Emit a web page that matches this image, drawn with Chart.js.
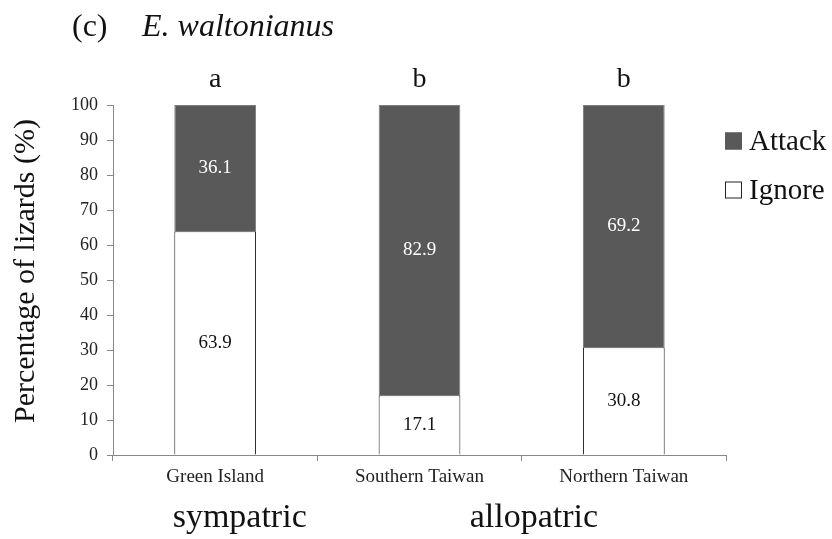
<!DOCTYPE html>
<html>
<head>
<meta charset="utf-8">
<script src="https://cdn.jsdelivr.net/npm/chart.js@4"></script>
<style>
  html, body { margin: 0; padding: 0; background: #fff; }
  #wrap { width: 832px; height: 539px; }
</style>
</head>
<body>
<div id="wrap"><canvas id="c" width="832" height="539"></canvas></div>
<script>
// Response of lizards to the model, by population
const categories = ['Green Island', 'Southern Taiwan', 'Northern Taiwan'];
const ignoreValues = [63.9, 17.1, 30.8];
const attackValues = [36.1, 82.9, 69.2];
const significance = ['a', 'b', 'b'];
const groupLabels = ['sympatric', 'allopatric'];
const seriesNames = ['Ignore', 'Attack'];
const yAxisTitle = 'Percentage of lizards (%)';

const SERIF = "'Liberation Serif', 'Times New Roman', serif";

// Title, axis title, letters, group names, value labels and legend
const decor = {
  id: 'decor',
  afterDraw(chart) {
    const ctx = chart.ctx;
    const area = chart.chartArea;
    const xs = chart.scales.x;
    ctx.save();

    // panel title
    ctx.fillStyle = '#111';
    ctx.textBaseline = 'alphabetic';
    ctx.textAlign = 'left';
    ctx.font = '32px ' + SERIF;
    ctx.fillText('(c)', 72, 36);
    ctx.font = 'italic 32px ' + SERIF;
    ctx.fillText('E. waltonianus', 142, 36);

    // vertical axis title
    ctx.save();
    ctx.translate(26, 271);
    ctx.rotate(-Math.PI / 2);
    ctx.font = '30px ' + SERIF;
    ctx.textAlign = 'center';
    ctx.textBaseline = 'middle';
    ctx.fillText(yAxisTitle, 0, 0);
    ctx.restore();

    // significance letters above the bars
    ctx.font = '28px ' + SERIF;
    ctx.textAlign = 'center';
    significance.forEach((s, i) => {
      ctx.fillText(s, xs.getPixelForValue(i), area.top - 18);
    });

    // value labels centred in each segment
    ctx.font = '19px ' + SERIF;
    ctx.textBaseline = 'middle';
    chart.data.datasets.forEach((ds, di) => {
      const meta = chart.getDatasetMeta(di);
      meta.data.forEach((el, i) => {
        ctx.fillStyle = di === 1 ? '#ffffff' : '#111111';
        ctx.fillText(ds.data[i].toFixed(1), el.x, (el.y + el.base) / 2);
      });
    });

    // sympatric / allopatric
    ctx.font = '34px ' + SERIF;
    ctx.textBaseline = 'alphabetic';
    ctx.fillStyle = '#111';
    ctx.fillText(groupLabels[0], xs.getPixelForValue(0.12), 527);
    ctx.fillText(groupLabels[1], xs.getPixelForValue(1.56), 527);

    // legend (Attack listed first)
    ctx.font = '29px ' + SERIF;
    ctx.textAlign = 'left';
    ctx.textBaseline = 'middle';
    const order = [1, 0];
    order.forEach((di, k) => {
      const ds = chart.data.datasets[di];
      const bx = area.right - 1;
      const cy = area.top + 36 + k * 49;
      ctx.fillStyle = ds.backgroundColor;
      ctx.fillRect(bx, cy - 8.5, 17, 17);
      ctx.strokeStyle = di === 1 ? '#595959' : '#222';
      ctx.lineWidth = 1;
      ctx.strokeRect(bx + 0.5, cy - 8, 16, 16);
      ctx.fillStyle = '#111';
      ctx.fillText(ds.label, bx + 24, cy + 1);
    });

    ctx.restore();
  }
};

new Chart(document.getElementById('c'), {
  type: 'bar',
  data: {
    labels: categories,
    datasets: [
      {
        label: seriesNames[0],
        data: ignoreValues,
        backgroundColor: '#ffffff',
        borderColor: '#222222',
        borderWidth: 1
      },
      {
        label: seriesNames[1],
        data: attackValues,
        backgroundColor: '#595959',
        borderColor: '#7f7f7f',
        borderWidth: 1
      }
    ]
  },
  options: {
    responsive: false,
    animation: false,
    devicePixelRatio: 1,
    layout: { padding: { top: 105, right: 106, bottom: 0, left: 0 } },
    datasets: { bar: { categoryPercentage: 1, barPercentage: 0.4 } },
    plugins: { legend: { display: false }, tooltip: { enabled: false } },
    scales: {
      x: {
        stacked: true,
        grid: { offset: true, drawOnChartArea: false, tickLength: 6, color: '#888' },
        border: { color: '#888' },
        ticks: { font: { family: SERIF, size: 19 }, color: '#222', padding: 5 },
        afterFit: s => { s.height = 84; }
      },
      y: {
        stacked: true,
        min: 0,
        max: 100,
        grid: { drawOnChartArea: false, tickLength: 6, color: '#888' },
        border: { color: '#888' },
        ticks: { stepSize: 10, font: { family: SERIF, size: 18 }, color: '#222', padding: 9 },
        afterFit: s => { s.width = 113; }
      }
    }
  },
  plugins: [decor]
});
</script>
</body>
</html>
